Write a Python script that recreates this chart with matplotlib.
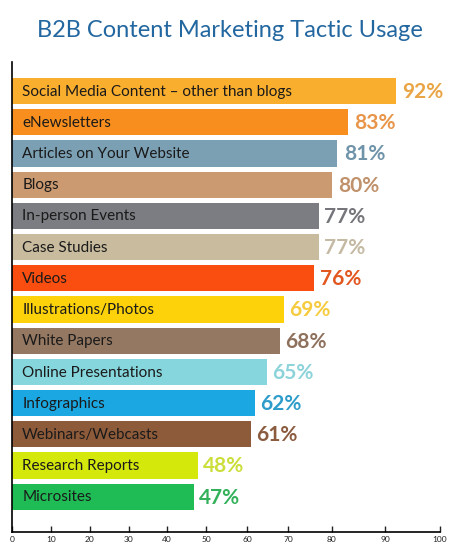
import numpy as np
import matplotlib
matplotlib.use('Agg')
import matplotlib.pyplot as plt

# Datos
tactics = ["Social Media Content \u2013 other than blogs", "eNewsletters",
           "Articles on Your Website", "Blogs", "In-person Events",
           "Case Studies", "Videos", "Illustrations/Photos", "White Papers",
           "Online Presentations", "Infographics", "Webinars/Webcasts",
           "Research Reports", "Microsites"]
usage = [92, 83, 81, 80, 77, 77, 76, 69, 68, 65, 62, 61, 48, 47]
bar_colors = ["#F9AE2D", "#F78E1E", "#7B9FB3", "#CB9A70", "#7C7D82",
              "#C9BB9E", "#F94E0F", "#FDD20A", "#947862", "#86D6DD",
              "#1AA7E2", "#8E5B3A", "#D4E80C", "#1FBC55"]
label_colors = ["#E9A545", "#E8954A", "#6F93A8", "#C0916A", "#75767B",
                "#C4B9A2", "#E2561F", "#F6CB3E", "#8D715C", "#8DD3DA",
                "#2E9CCB", "#8A5B3E", "#CBDE3A", "#33B15A"]
xticks = [0, 10, 20, 30, 40, 50, 60, 70, 80, 90, 100]

# La escala original no es lineal: posiciones relativas de cada marca
tick_pos = np.array([0, 39, 78, 117, 155, 194, 235, 276, 320, 373, 428]) / 428 * 100


def fwd(x):
    return np.interp(x, xticks, tick_pos)


def inv(x):
    return np.interp(x, tick_pos, xticks)


plt.rcParams['font.family'] = ['Lato', 'DejaVu Sans']

fig = plt.figure(figsize=(4.6, 5.52), dpi=100)
ax = fig.add_axes([12 / 460, 20 / 552, 428 / 460, 470 / 552])
ax.set_xscale('function', functions=(fwd, inv))

y = np.arange(len(tactics))
ax.barh(y, usage, height=0.84, color=bar_colors, zorder=2)

for yi, name, val, lc in zip(y, tactics, usage, label_colors):
    ax.text(2.6, yi + 0.02, name, va='center', ha='left', fontsize=11,
            color='#1a1a1a')
    ax.text(val + 1.2, yi + 0.03, "{}%".format(val), va='center', ha='left',
            fontsize=15, fontweight='bold', color=lc)

ax.set_ylim(14.13, -0.93)
ax.set_xlim(0, 100)
ax.set_xticks(xticks)
ax.set_yticks([])
ax.tick_params(axis='x', direction='in', length=4, width=1, labelsize=6,
               pad=3, colors='#222222')
for side in ('top', 'right'):
    ax.spines[side].set_visible(False)
ax.spines['left'].set_linewidth(1.2)
ax.spines['bottom'].set_linewidth(1.2)

fig.text(0.5, 0.945, "B2B Content Marketing Tactic Usage", ha='center',
         va='center', fontsize=17, color='#2367A0')

fig.savefig('out.png', dpi=100)
